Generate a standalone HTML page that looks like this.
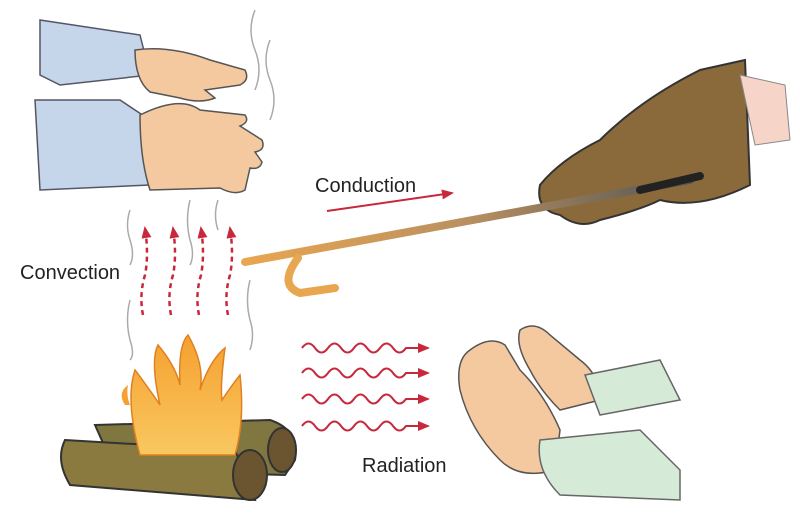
<!DOCTYPE html>
<html><head><meta charset="utf-8"><style>
html,body{margin:0;padding:0;background:#fff;width:800px;height:524px;overflow:hidden}
text{font-family:"Liberation Sans",sans-serif;fill:#222}
</style></head><body>
<svg width="800" height="524" viewBox="0 0 800 524" xmlns="http://www.w3.org/2000/svg">
<defs>
<linearGradient id="rod" x1="0" y1="0" x2="1" y2="0">
<stop offset="0" stop-color="#e9a650"/><stop offset="0.5" stop-color="#b89060"/><stop offset="1" stop-color="#555"/></linearGradient>
<linearGradient id="fl" x1="0" y1="0" x2="0" y2="1"><stop offset="0" stop-color="#f6a030"/><stop offset="1" stop-color="#f8c860"/></linearGradient>
<marker id="ah" markerUnits="userSpaceOnUse" markerWidth="12" markerHeight="10" refX="10" refY="5" orient="auto"><path d="M0,0 L12,5 L0,10 Z" fill="#c8283c"/></marker>
</defs>
<!-- top-left hands -->
<path d="M40,20 L140,35 L150,75 L60,85 L40,75 Z" fill="#c5d6ea" stroke="#556" stroke-width="1.5"/>
<path d="M135,50 Q170,45 210,60 L245,70 Q250,80 240,85 L205,90 L215,98 Q200,104 180,98 L150,92 Q135,80 135,50 Z" fill="#f5c9a0" stroke="#555" stroke-width="1.5"/>
<path d="M35,100 L120,100 L150,120 L150,185 L40,190 Z" fill="#c5d6ea" stroke="#556" stroke-width="1.5"/>
<path d="M140,115 Q180,95 200,110 L245,115 Q250,122 240,126 L262,140 Q266,150 255,152 L262,162 Q260,170 250,168 L245,190 Q235,196 220,188 L150,190 Q140,160 140,115 Z" fill="#f5c9a0" stroke="#555" stroke-width="1.5"/>
<g fill="none" stroke="#aaa" stroke-width="1.5">
<path d="M255,10 q-8,20 0,40 q8,20 0,40"/><path d="M270,40 q-8,20 0,40 q8,20 0,40"/>
<path d="M130,210 q-5,15 0,30 q5,15 0,25"/><path d="M190,200 q-5,20 0,40 q5,15 0,25"/>
<path d="M218,200 q-5,15 0,30"/><path d="M250,280 q-5,20 0,40 q5,15 0,30"/>
<path d="M130,300 q-5,20 0,40 q5,15 0,20"/></g>
<!-- glove -->
<path d="M745,60 L700,70 Q640,100 600,140 Q560,160 540,185 Q535,210 560,215 Q580,230 600,220 Q640,210 660,200 Q700,210 750,185 Z" fill="#8a6a3a" stroke="#333" stroke-width="2"/>
<path d="M740,75 L785,85 L790,140 L755,145 Z" fill="#f6d4c8" stroke="#888" stroke-width="1"/>
<!-- rod -->
<path d="M245,262 L690,180" stroke="url(#rod)" stroke-width="8" stroke-linecap="round"/>
<path d="M700,176 L640,190" stroke="#222" stroke-width="8" stroke-linecap="round"/>
<path d="M298,258 Q278,285 300,293 L335,288" fill="none" stroke="#e9a650" stroke-width="8" stroke-linecap="round"/>
<text x="315" y="192" font-size="20">Conduction</text>
<path d="M327,211 L452,193" stroke="#c8283c" stroke-width="2" marker-end="url(#ah)"/>
<text x="20" y="279" font-size="20">Convection</text>
<g fill="none" stroke="#c8283c" stroke-width="2.5" stroke-dasharray="5,4" marker-end="url(#ah)">
<path d="M143,315 q-4,-20 2,-40 q4,-20 0,-47"/><path d="M171,315 q-4,-20 2,-40 q4,-20 0,-47"/>
<path d="M199,315 q-4,-20 2,-40 q4,-20 0,-47"/><path d="M228,315 q-4,-20 2,-40 q4,-20 0,-47"/></g>
<!-- logs -->
<path d="M95,425 L270,420 Q300,430 295,460 L285,475 L115,470 Z" fill="#807640" stroke="#333" stroke-width="2"/>
<path d="M65,440 L235,450 L255,500 L70,485 Q55,460 65,440 Z" fill="#8a7a40" stroke="#333" stroke-width="2"/>
<ellipse cx="250" cy="475" rx="17" ry="25" fill="#6a5530" stroke="#333" stroke-width="2"/>
<ellipse cx="282" cy="450" rx="14" ry="22" fill="#6a5530" stroke="#333" stroke-width="2"/>
<!-- flames -->
<path d="M140,455 Q125,400 135,370 Q150,390 160,405 Q150,360 158,345 Q175,365 180,385 Q178,345 188,335 Q205,365 200,390 Q210,360 225,348 Q220,385 222,400 Q232,385 240,375 Q245,420 235,455 Z" fill="url(#fl)" stroke="#e08020" stroke-width="1.5"/>
<path d="M125,405 q-8,-12 3,-20 q-2,10 2,20 z" fill="#f6a030"/>
<!-- radiation -->
<g fill="none" stroke="#c8283c" stroke-width="2" marker-end="url(#ah)">
<path d="M302,348 q6.5,-9 13,0 t13,0 t13,0 t13,0 t13,0 t13,0 t13,0 t13,0 L428,348"/>
<path d="M302,373 q6.5,-9 13,0 t13,0 t13,0 t13,0 t13,0 t13,0 t13,0 t13,0 L428,373"/>
<path d="M302,399 q6.5,-9 13,0 t13,0 t13,0 t13,0 t13,0 t13,0 t13,0 t13,0 L428,399"/>
<path d="M302,426 q6.5,-9 13,0 t13,0 t13,0 t13,0 t13,0 t13,0 t13,0 t13,0 L428,426"/></g>
<text x="362" y="472" font-size="20">Radiation</text>
<!-- right hands -->
<path d="M520,330 Q535,320 550,335 L580,360 Q600,375 600,400 L560,410 Q540,390 530,370 Q515,345 520,330 Z" fill="#f5c9a0" stroke="#555" stroke-width="1.5"/>
<path d="M585,375 L660,360 L680,400 L600,415 Z" fill="#d6ead8" stroke="#666" stroke-width="1.5"/>
<path d="M470,350 Q490,335 505,345 L520,370 Q545,395 560,430 L555,470 Q520,480 500,460 Q470,430 460,390 Q455,360 470,350 Z" fill="#f5c9a0" stroke="#555" stroke-width="1.5"/>
<path d="M540,440 L640,430 L680,470 L680,500 L560,495 Q535,470 540,440 Z" fill="#d6ead8" stroke="#666" stroke-width="1.5"/>
</svg>
</body></html>
